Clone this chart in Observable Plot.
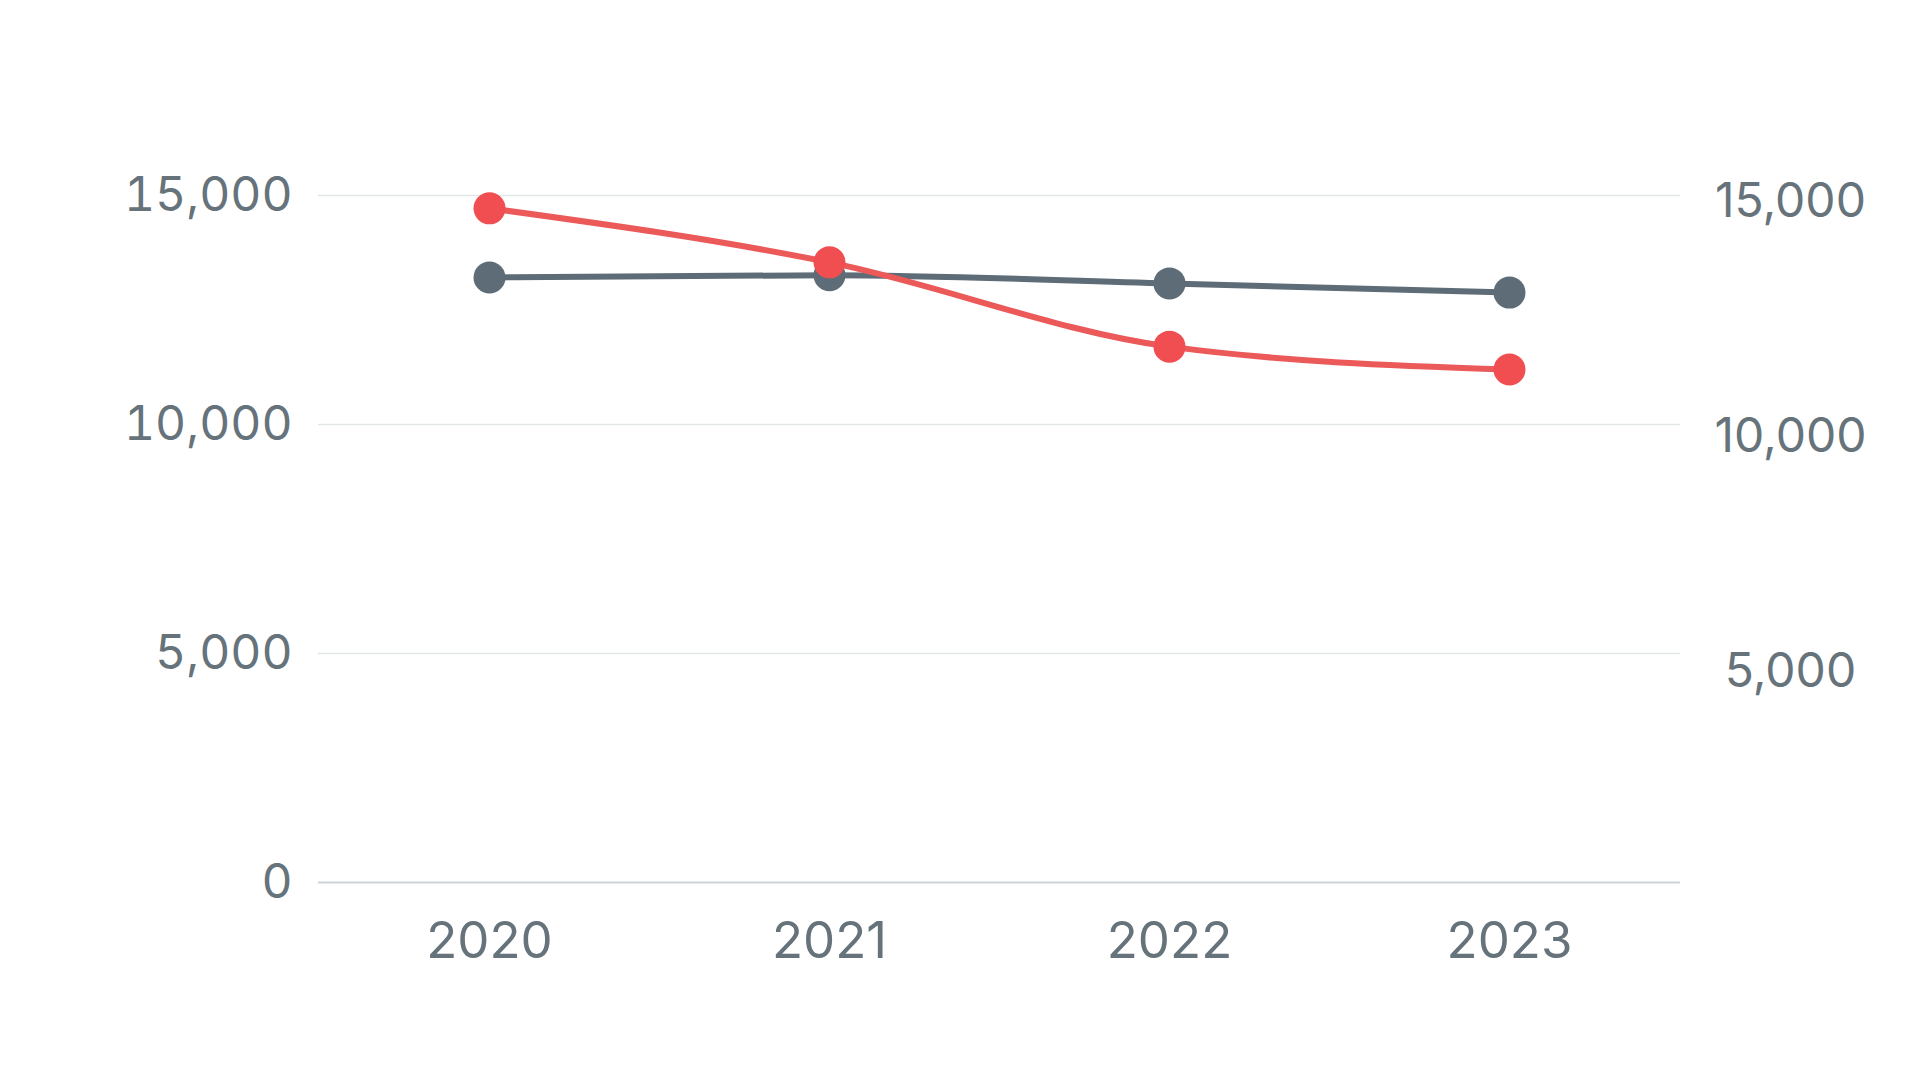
<!DOCTYPE html>
<html>
<head>
<meta charset="utf-8">
<script src="https://cdn.jsdelivr.net/npm/d3@7"></script>
<script src="https://cdn.jsdelivr.net/npm/@observablehq/plot@0.6"></script>
<style>
  html, body { margin: 0; padding: 0; background: #ffffff; }
  #chart { width: 1920px; height: 1080px; }
  svg { display: block; }
</style>
</head>
<body>
<div id="chart"></div>
<script>
// Data
const years = ["2020", "2021", "2022", "2023"];
const redSeries = [14720, 13540, 11700, 11200];
const graySeries = [13210, 13260, 13080, 12880];
const leftTicks = [0, 5000, 10000, 15000];
const gridTicks = [5000, 10000, 15000];
const rightTicks = [5000, 10000, 15000];

const redColor = "#f04e50";
const redLine = "#ec5959";
const grayColor = "#5d6c76";
const textColor = "#66737b";

const red = years.map((year, i) => ({year, value: redSeries[i]}));
const gray = years.map((year, i) => ({year, value: graySeries[i]}));

// secondary (right) axis scale, mapped onto the primary y domain
const yRight = d3.scaleLinear().domain([497, 15135]).range([0, 15000]);

const fmt = d3.format(",");

const chart = Plot.plot({
  width: 1920,
  height: 1080,
  marginTop: 195,
  marginBottom: 198,
  marginLeft: 318,
  marginRight: 240,
  style: {fontFamily: "Inter, 'Noto Sans', sans-serif", background: "#ffffff"},
  x: {type: "point", domain: years, padding: 0.5, label: null},
  y: {domain: [0, 15000], label: null},
  marks: [
    Plot.gridY(gridTicks, {stroke: "#e2e5e7", strokeOpacity: 1, strokeWidth: 1.5}),
    Plot.ruleY([0], {stroke: "#cdd3d7", strokeWidth: 2}),
    Plot.axisY(leftTicks, {
      anchor: "left", tickSize: 0, tickPadding: 26, fontSize: 48,
      fill: textColor, tickFormat: fmt, label: null
    }),
    Plot.text(rightTicks, {
      y: d => yRight(d), text: d => fmt(d), frameAnchor: "right", dx: 110,
      textAnchor: "middle", fontSize: 48, fill: textColor
    }),
    Plot.axisX({
      tickSize: 0, tickPadding: 39, fontSize: 51, fill: textColor, label: null
    }),
    Plot.line(gray, {x: "year", y: "value", stroke: grayColor, strokeWidth: 6, curve: "monotone-x"}),
    Plot.dot(gray, {x: "year", y: "value", r: 16, fill: grayColor}),
    Plot.line(red, {x: "year", y: "value", stroke: redLine, strokeWidth: 6, curve: "monotone-x"}),
    Plot.dot(red, {x: "year", y: "value", r: 16, fill: redColor})
  ]
});

document.getElementById("chart").appendChild(chart);
</script>
</body>
</html>
